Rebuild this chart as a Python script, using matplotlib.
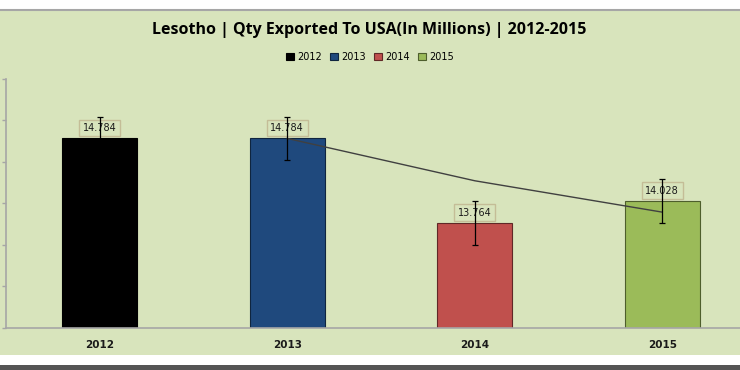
import matplotlib
matplotlib.use("Agg")
import matplotlib.pyplot as plt
import matplotlib.patches as mpatches
import numpy as np

years = ["2012", "2013", "2014", "2015"]
values = [14.784, 14.784, 13.764, 14.028]
colors = ["#000000", "#1F497D", "#C0504D", "#9BBB59"]
edge_colors = ["#000000", "#0F253F", "#602827", "#4E5E2C"]
title = "Lesotho | Qty Exported To USA(In Millions) | 2012-2015"

bg = "#D8E4BC"
W, H = 740, 370
fig = plt.figure(figsize=(W / 100, H / 100), dpi=100)
fig.patch.set_facecolor("white")

# chart area background
fig.patches.append(mpatches.Rectangle((0, (H - 355) / H), 1, (355 - 10) / H,
                                      transform=fig.transFigure, facecolor=bg,
                                      edgecolor="none", zorder=-10))
fig.lines.append(plt.Line2D([0, 1], [(H - 9.5) / H] * 2, transform=fig.transFigure,
                            color="#A6A6A6", lw=1.5))
fig.patches.append(mpatches.Rectangle((0, 0), 1, 5 / H, transform=fig.transFigure,
                                      facecolor="#555555", edgecolor="none"))

ax = fig.add_axes([6 / W, (H - 328) / H, 750 / W, (328 - 79) / H])
ax.set_facecolor(bg)
ax.patch.set_alpha(0)

x = np.arange(len(years))
vals = np.array(values)
se = vals.std(ddof=1) / np.sqrt(len(vals))

bars = ax.bar(x, vals, width=0.4, color=colors, edgecolor=edge_colors, linewidth=0.8,
              zorder=2)
ax.errorbar(x, vals, yerr=se, fmt="none", ecolor="#000000", elinewidth=0.9,
            capsize=2.5, capthick=0.9, zorder=5)

# 2-period moving average trendline
ma = (vals[1:] + vals[:-1]) / 2
ax.plot(x[1:], ma, color="#404040", lw=1.0, zorder=4)

for xi, v in zip(x, vals):
    ax.annotate(f"{v:.3f}", (xi, v), xytext=(0, 7.5), textcoords="offset points",
                ha="center", va="center", fontsize=7, color="#1a1a1a",
                family="DejaVu Sans",
                bbox=dict(boxstyle="square,pad=0.35", facecolor=bg,
                          edgecolor="#C4BD97", lw=1.0), zorder=3)

ax.set_ylim(12.5, 15.5)
ax.set_xlim(-0.5, 3.5)
ax.set_yticks(np.arange(12.5, 15.51, 0.5))
ax.set_yticklabels([])
ax.tick_params(axis="y", length=3, color="#A6A6A6", width=1)
ax.set_xticks(x)
ax.set_xticklabels(years, fontsize=7.5, fontweight="bold", color="#1a1a1a")
ax.tick_params(axis="x", length=0, pad=9)
for s in ["top", "right"]:
    ax.spines[s].set_visible(False)
ax.spines["left"].set_color("#A6A6A6")
ax.spines["bottom"].set_color("#A6A6A6")
ax.spines["left"].set_linewidth(1.2)
ax.spines["bottom"].set_linewidth(1.2)

fig.text(369 / W, (H - 30) / H, title, ha="center", va="center", fontsize=11.5,
         fontweight="bold", family="Open Sans", color="#000000")

handles = [mpatches.Patch(facecolor=c, edgecolor=e, lw=0.8) for c, e in zip(colors, edge_colors)]
fig.legend(handles, years, loc="center", bbox_to_anchor=(370 / W, (H - 57) / H),
           ncol=4, frameon=False, fontsize=7, handlelength=0.8, handleheight=0.8,
           handletextpad=0.3, columnspacing=0.9)

fig.savefig("out.png", dpi=100, facecolor=fig.get_facecolor())
